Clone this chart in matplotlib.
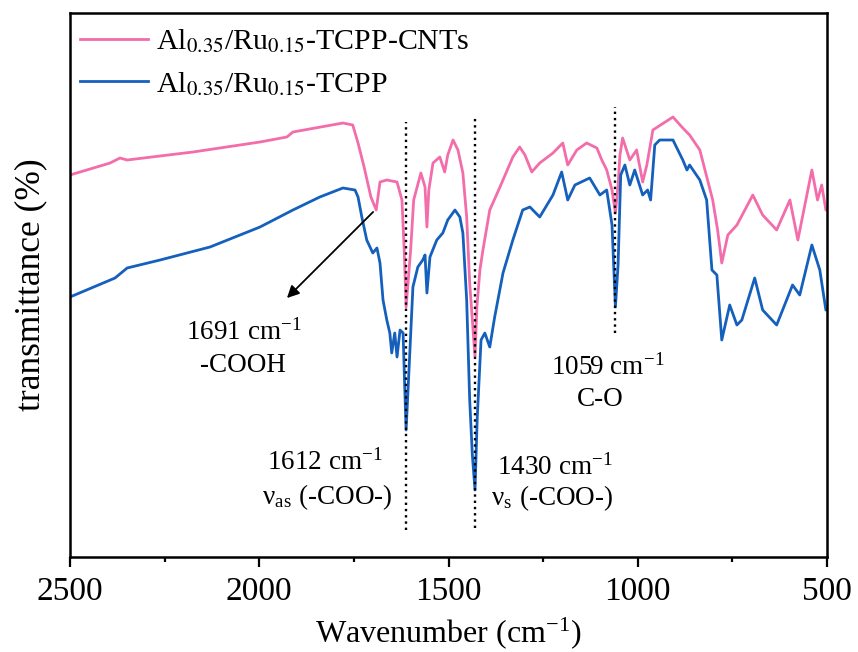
import matplotlib
matplotlib.use('Agg')
import matplotlib.pyplot as plt
from matplotlib.ticker import MultipleLocator

# wavenumber (cm-1) and transmittance (arb. units)
wn_cnt = [2500, 2394, 2368, 2349, 2175, 1998, 1927, 1911, 1779, 1753, 1739, 1723,
          1705, 1691, 1681, 1663, 1636, 1623, 1617, 1612, 1600, 1592, 1573, 1562,
          1557, 1552, 1541, 1523, 1510, 1502, 1488, 1475, 1462, 1452, 1444, 1430,
          1425, 1417, 1409, 1391, 1364, 1330, 1312, 1298, 1280, 1259, 1224, 1198,
          1185, 1161, 1135, 1108, 1095, 1082, 1068, 1059, 1052, 1047, 1040, 1021,
          1003, 987, 976, 960, 907, 881, 863, 836, 802, 789, 778, 762, 738, 696,
          670, 633, 598, 577, 540, 525, 514, 503, 500]
tr_cnt = [370, 382, 387, 385, 393, 403, 408, 413, 422, 420, 402, 378,
          348, 335, 363, 365, 363, 345, 295, 238, 295, 345, 372, 358,
          318, 355, 382, 388, 373, 390, 405, 395, 372, 328, 262, 188,
          238, 275, 295, 335, 358, 388, 398, 390, 373, 382, 392, 402,
          380, 395, 402, 397, 385, 375, 355, 332, 360, 390, 407, 385,
          395, 363, 380, 415, 428, 417, 410, 395, 345, 315, 282, 310, 320, 350,
          330, 315, 345, 305, 375, 345, 360, 335, 335]

wn_tcpp = [2500, 2381, 2349, 2262, 2130, 1998, 1911, 1840, 1779, 1747, 1739, 1729,
           1716, 1700, 1689, 1681, 1673, 1663, 1655, 1650, 1642, 1636, 1628, 1620,
           1616, 1612, 1604, 1594, 1581, 1568, 1562, 1557, 1549, 1531, 1515, 1502,
           1483, 1470, 1462, 1452, 1444, 1437, 1430, 1424, 1414, 1404, 1391, 1378,
           1356, 1330, 1304, 1285, 1259, 1224, 1201, 1185, 1166, 1127, 1100, 1082,
           1068, 1059, 1052, 1045, 1034, 1021, 1008, 987, 974, 966, 955, 942, 907,
           881, 870, 863, 836, 818, 804, 791, 778, 757, 738, 725, 691, 670, 633,
           591, 572, 540, 519, 503, 500]
tr_tcpp = [248, 267, 277, 285, 298, 318, 335, 348, 357, 355, 348, 328,
           305, 292, 297, 282, 245, 225, 212, 192, 212, 188, 215, 212,
           162, 115, 178, 258, 278, 285, 290, 252, 288, 305, 312, 325,
           335, 328, 312, 245, 145, 90, 55, 128, 205, 212, 198, 228,
           272, 305, 335, 338, 328, 350, 373, 345, 360, 367, 350, 355,
           320, 238, 280, 370, 380, 360, 375, 350, 355, 345, 400, 405, 405,
           385, 375, 380, 365, 345, 275, 270, 205, 240, 220, 225, 267, 235, 220,
           260, 250, 300, 275, 235, 235]

labels = [r'Al$_{0.35}$/Ru$_{0.15}$-TCPP-CNTs', r'Al$_{0.35}$/Ru$_{0.15}$-TCPP']
colors = ['#F36DAB', '#1560BD']
peaks = [1612, 1430, 1059]

plt.rcParams['font.family'] = 'Liberation Serif'
plt.rcParams['mathtext.fontset'] = 'stix'

fig = plt.figure(figsize=(8.58, 6.52), dpi=100)
ax = fig.add_axes([70 / 858, 1 - 557 / 652, 757 / 858, 544 / 652])

ax.plot(wn_cnt, tr_cnt, color=colors[0], lw=2.0, label=labels[0])
ax.plot(wn_tcpp, tr_tcpp, color=colors[1], lw=2.0, label=labels[1])

# dotted guide lines at the assigned bands
ax.plot([peaks[0], peaks[0]], [15, 423], 'k:', lw=1.7)
ax.plot([peaks[1], peaks[1]], [17, 427], 'k:', lw=1.7)
ax.plot([peaks[2], peaks[2]], [212, 438], 'k:', lw=1.7)

fs = 19.5
ax.annotate('', xy=(1932, 245), xytext=(1694, 335),
            arrowprops=dict(arrowstyle='-|>', color='k', lw=1.3,
                            mutation_scale=18))
ax.text(2040, 213, r'1691 cm$^{\mathregular{-1}}$', fontsize=fs, ha='center', va='center')
ax.text(2043, 180, '-COOH', fontsize=fs, ha='center', va='center')
ax.text(1827, 83, r'1612 cm$^{\mathregular{-1}}$', fontsize=fs, ha='center', va='center')
ax.text(1821, 48, r'ν$_{\mathregular{as}}$ (-COO-)', fontsize=fs, ha='center', va='center')
ax.text(1219, 78, r'1430 cm$^{\mathregular{-1}}$', fontsize=fs, ha='center', va='center')
ax.text(1227, 47, r'ν$_{\mathregular{s}}$ (-COO-)', fontsize=fs, ha='center', va='center')
ax.text(1079, 178, r'1059 cm$^{\mathregular{-1}}$', fontsize=fs, ha='center', va='center')
ax.text(1098, 145, 'C-O', fontsize=fs, ha='center', va='center')

ax.set_xlim(2500, 500)
ax.set_ylim(-12, 532)
ax.xaxis.set_major_locator(MultipleLocator(500))
ax.xaxis.set_minor_locator(MultipleLocator(250))
ax.tick_params(axis='x', which='major', direction='out', length=7, width=1.6,
               labelsize=24, pad=7)
ax.tick_params(axis='x', which='minor', direction='out', length=3.6, width=1.6)
ax.set_yticks([])
for s in ax.spines.values():
    s.set_linewidth(1.8)

ax.set_xlabel(r'Wavenumber (cm$^{\mathregular{-1}}$)', fontsize=23, labelpad=6)
ax.set_ylabel('transmittance (%)', fontsize=25.5, labelpad=16)

ax.legend(loc='upper left', bbox_to_anchor=(-0.003, 0.996), frameon=False,
          fontsize=21.5, handlelength=2.3, handletextpad=0.25,
          labelspacing=0.5, borderaxespad=0)

fig.savefig('out.png', dpi=100)
